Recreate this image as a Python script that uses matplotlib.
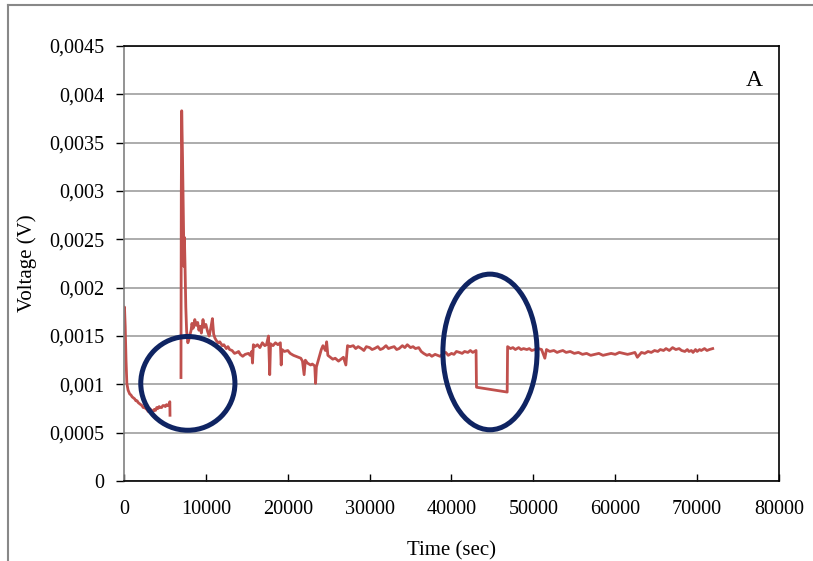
import matplotlib.pyplot as plt
import numpy as np
from matplotlib.patches import Ellipse
from matplotlib.lines import Line2D

# (time in sec, voltage in V) before the break in the recording
early_trace = [
    (0, 0.00172), (60, 0.00180), (110, 0.00169), (150, 0.00160), (250, 0.00125),
    (350, 0.00101), (500, 0.00094), (700, 0.00090), (850, 0.00089), (1000, 0.00087),
    (1150, 0.00086), (1300, 0.00085), (1450, 0.00083), (1600, 0.00083), (1750, 0.00081),
    (1900, 0.00080), (2050, 0.00079), (2200, 0.00078), (2350, 0.00076), (2500, 0.00076),
    (2650, 0.00075), (2800, 0.00074), (2950, 0.00072), (3100, 0.00075), (3250, 0.00074),
    (3400, 0.00073), (3550, 0.00072), (3700, 0.00074), (3850, 0.00073), (4000, 0.00076),
    (4150, 0.00075), (4300, 0.00077), (4450, 0.00076), (4600, 0.00076), (4750, 0.00078),
    (4900, 0.00078), (5050, 0.00077), (5200, 0.00079), (5350, 0.00078), (5450, 0.00078),
    (5600, 0.00082), (5620, 0.00068),
]

# (time in sec, voltage in V) after the break
main_trace = [
    (6960, 0.00107), (7000, 0.00300), (7050, 0.00383), (7150, 0.00335), (7230, 0.00290),
    (7280, 0.00257), (7330, 0.00222), (7380, 0.00252), (7450, 0.00225), (7550, 0.00180),
    (7650, 0.00155), (7800, 0.00143), (7950, 0.00147), (8050, 0.00151), (8200, 0.00156),
    (8300, 0.00163), (8450, 0.00158), (8650, 0.00167), (8800, 0.00161), (9000, 0.00164),
    (9150, 0.00156), (9300, 0.00160), (9450, 0.00153), (9650, 0.00167), (9800, 0.00159),
    (10000, 0.00162), (10200, 0.00155), (10400, 0.00150), (10600, 0.00158), (10800, 0.00168),
    (10950, 0.00152), (11100, 0.00148), (11300, 0.00145), (11500, 0.00143), (11700, 0.00144),
    (12000, 0.00140), (12200, 0.00141), (12500, 0.00137), (12700, 0.00139), (12900, 0.00136),
    (13200, 0.00135), (13500, 0.00132), (13800, 0.00133), (14000, 0.00134), (14200, 0.00131),
    (14500, 0.00129), (14800, 0.00131), (15200, 0.00132), (15400, 0.00130), (15600, 0.00134),
    (15700, 0.00122), (15800, 0.00141), (16000, 0.00139), (16300, 0.00141), (16600, 0.00138),
    (16900, 0.00143), (17200, 0.00140), (17400, 0.00141), (17650, 0.00150), (17800, 0.00110),
    (17900, 0.00142), (18200, 0.00140), (18500, 0.00143), (18800, 0.00141), (19100, 0.00143),
    (19200, 0.00120), (19300, 0.00136), (19600, 0.00134), (20000, 0.00135), (20300, 0.00132),
    (20700, 0.00130), (21000, 0.00129), (21300, 0.00128), (21600, 0.00127), (21800, 0.00124),
    (22000, 0.00110), (22150, 0.00125), (22400, 0.00122), (22800, 0.00120), (23000, 0.00121),
    (23300, 0.00119), (23400, 0.00101), (23500, 0.00118), (23700, 0.00124), (23900, 0.00130),
    (24100, 0.00136), (24300, 0.00140), (24600, 0.00135), (24750, 0.00144), (24900, 0.00130),
    (25200, 0.00128), (25500, 0.00126), (25800, 0.00127), (26200, 0.00124), (26500, 0.00126),
    (26800, 0.00128), (27100, 0.00120), (27300, 0.00140), (27600, 0.00139), (28000, 0.00140),
    (28300, 0.00137), (28600, 0.00139), (29000, 0.00137), (29300, 0.00135), (29600, 0.00139),
    (30000, 0.00138), (30300, 0.00136), (30600, 0.00137), (31000, 0.00139), (31300, 0.00136),
    (31600, 0.00137), (32000, 0.00140), (32300, 0.00137), (32600, 0.00138), (33000, 0.00139),
    (33300, 0.00136), (33600, 0.00137), (34000, 0.00140), (34300, 0.00138), (34600, 0.00141),
    (35000, 0.00138), (35300, 0.00139), (35600, 0.00137), (36000, 0.00138), (36300, 0.00134),
    (36600, 0.00132), (37000, 0.00130), (37300, 0.00131), (37600, 0.00129), (38000, 0.00131),
    (38300, 0.00130), (38600, 0.00129), (39000, 0.00132), (39300, 0.00133), (39600, 0.00130),
    (40000, 0.00132), (40300, 0.00131), (40600, 0.00134), (41000, 0.00133), (41300, 0.00132),
    (41600, 0.00134), (42000, 0.00133), (42300, 0.00135), (42600, 0.00133), (43000, 0.00135),
    (43050, 0.00097), (46800, 0.00092), (46850, 0.00139), (47200, 0.00137), (47500, 0.00138),
    (47800, 0.00136), (48200, 0.00138), (48500, 0.00136), (48800, 0.00137), (49200, 0.00136),
    (49500, 0.00137), (49800, 0.00135), (50200, 0.00136), (50600, 0.00137), (51000, 0.00136),
    (51400, 0.00127), (51600, 0.00136), (52000, 0.00134), (52500, 0.00135), (52900, 0.00133),
    (53200, 0.00134), (53600, 0.00135), (54000, 0.00133), (54500, 0.00134), (55000, 0.00132),
    (55500, 0.00133), (56000, 0.00131), (56500, 0.00132), (57000, 0.00130), (57500, 0.00131),
    (58000, 0.00132), (58500, 0.00130), (59000, 0.00131), (59500, 0.00132), (60000, 0.00131),
    (60500, 0.00133), (61000, 0.00132), (61500, 0.00131), (62000, 0.00132), (62400, 0.00133),
    (62700, 0.00128), (63000, 0.00131), (63200, 0.00133), (63600, 0.00132), (64000, 0.00134),
    (64400, 0.00133), (64800, 0.00135), (65200, 0.00134), (65500, 0.00136), (65900, 0.00135),
    (66200, 0.00137), (66600, 0.00135), (67000, 0.00138), (67400, 0.00136), (67800, 0.00137),
    (68100, 0.00135), (68500, 0.00134), (68800, 0.00136), (69000, 0.00134), (69300, 0.00135),
    (69500, 0.00133), (69800, 0.00136), (70000, 0.00134), (70300, 0.00136), (70500, 0.00135),
    (70900, 0.00137), (71200, 0.00135), (71500, 0.00136), (71900, 0.00137),
]

y_ticks = [0, 0.0005, 0.001, 0.0015, 0.002, 0.0025, 0.003, 0.0035, 0.004, 0.0045]
y_labels = ['0', '0,0005', '0,001', '0,0015', '0,002', '0,0025', '0,003',
            '0,0035', '0,004', '0,0045']
x_ticks = [0, 10000, 20000, 30000, 40000, 50000, 60000, 70000, 80000]

# highlighted regions: (centre t, centre V, width t, height V)
marks = [(7800, 0.00101, 11500, 0.00097),
         (44700, 0.001335, 11500, 0.00161)]

plt.rcParams['font.family'] = ['Liberation Serif', 'DejaVu Serif']

fig = plt.figure(figsize=(8.13, 5.61), dpi=100)
ax = fig.add_axes([0.1525, 0.1426, 0.8057, 0.7754])

# join both parts with a NaN so the gap is left open
trace = np.array(early_trace + [(np.nan, np.nan)] + main_trace)
ax.plot(trace[:, 0], trace[:, 1], color='#C0504D', lw=2.0, solid_joinstyle='round')

for cx, cy, w, h in marks:
    ax.add_patch(Ellipse((cx, cy), w, h, fill=False, edgecolor='#0F2462', lw=3.6, zorder=5))

ax.set_xlim(0, 80000)
ax.set_ylim(0, 0.0045)
ax.set_yticks(y_ticks)
ax.set_yticklabels(y_labels)
ax.set_xticks(x_ticks)
ax.set_xticklabels([str(x) for x in x_ticks])
ax.grid(axis='y', color='#a6a6a6', lw=1.3)
ax.set_axisbelow(True)

ax.tick_params(axis='y', direction='out', length=6, width=1, labelsize=14.5, pad=8)
ax.tick_params(axis='x', direction='in', length=5, width=1, labelsize=14.5, pad=14)
for side in ['top', 'right', 'bottom']:
    ax.spines[side].set_color('black')
    ax.spines[side].set_linewidth(1.2)
ax.spines['left'].set_color('#808080')
ax.spines['left'].set_linewidth(1.2)

ax.set_xlabel('Time (sec)', fontsize=15, labelpad=16)
ax.set_ylabel('Voltage (V)', fontsize=15, labelpad=9)
ax.text(0.975, 0.945, 'A', transform=ax.transAxes, fontsize=17, ha='right', va='top')

# frame edges along the top and left of the figure
fig.add_artist(Line2D([8 / 813, 1], [1 - 5 / 561, 1 - 5 / 561], color='#888888', lw=1.5))
fig.add_artist(Line2D([8 / 813, 8 / 813], [0, 1 - 5 / 561], color='#888888', lw=1.5))

plt.savefig('out.png', dpi=100)
